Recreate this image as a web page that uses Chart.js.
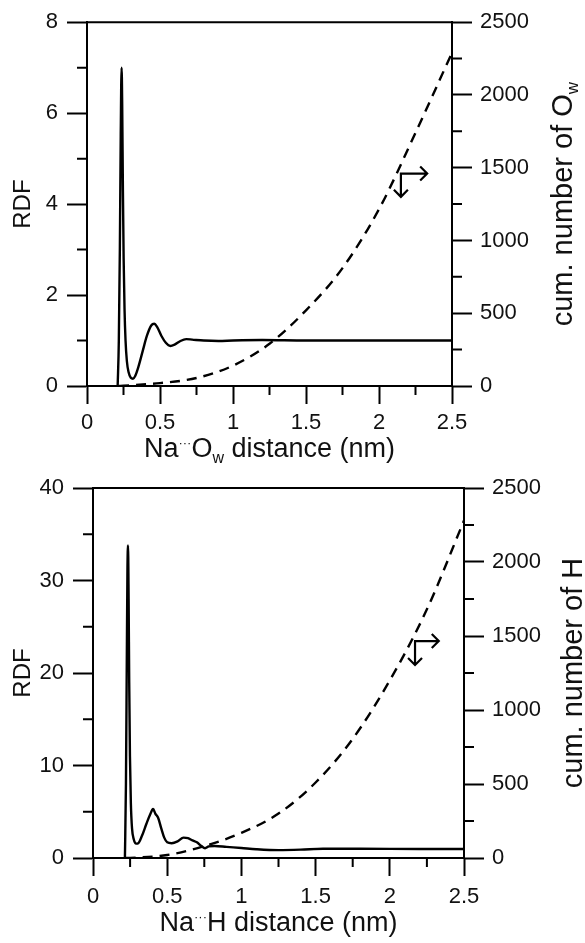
<!DOCTYPE html>
<html>
<head>
<meta charset="utf-8">
<script src="https://cdn.jsdelivr.net/npm/chart.js@4"></script>
<style>
  body { margin: 0; background: #fff; }
  canvas { position: absolute; left: 0; }
  #top { top: 0; }
  #bot { top: 463px; }
</style>
</head>
<body>
<canvas id="top" width="585" height="472"></canvas>
<canvas id="bot" width="585" height="480"></canvas>
<script>
// Na...Ow panel
const owR   = [0.21, 0.218, 0.225, 0.231, 0.237, 0.241, 0.246, 0.251, 0.257, 0.264, 0.273, 0.285, 0.3, 0.315, 0.33, 0.35, 0.38, 0.41, 0.44, 0.46, 0.48, 0.51, 0.54, 0.57, 0.6, 0.64, 0.68, 0.72, 0.8, 0.9, 1.0, 1.2, 1.5, 2.0, 2.5];
const owRdf = [0, 1.0, 3.0, 5.5, 7.0, 6.2, 4.3, 2.8, 1.7, 1.0, 0.55, 0.3, 0.18, 0.16, 0.22, 0.4, 0.75, 1.1, 1.33, 1.37, 1.3, 1.1, 0.95, 0.88, 0.91, 0.99, 1.03, 1.02, 1.0, 0.99, 1.0, 1.01, 1.0, 1.0, 1.0];
const owCumR = [0.22, 0.25, 0.5, 0.75, 1.0, 1.25, 1.5, 1.75, 2.0, 2.25, 2.5];
const owCum  = [0, 2, 20, 55, 140, 290, 520, 810, 1215, 1740, 2290];
const owArrow = [2.15, 1460, 2.33, 1300];

// Na...H panel
const hR   = [0.215, 0.222, 0.228, 0.232, 0.236, 0.24, 0.244, 0.249, 0.255, 0.263, 0.275, 0.29, 0.305, 0.33, 0.36, 0.385, 0.405, 0.42, 0.44, 0.46, 0.48, 0.5, 0.53, 0.57, 0.61, 0.64, 0.67, 0.7, 0.73, 0.755, 0.78, 0.82, 0.9, 1.0, 1.1, 1.25, 1.4, 1.55, 1.8, 2.2, 2.5];
const hRdf = [0, 8, 22, 31, 33.8, 28, 19, 11, 6, 3.2, 2.0, 1.55, 1.6, 2.4, 3.7, 4.7, 5.3, 4.8, 4.3, 3.2, 2.2, 1.7, 1.6, 1.8, 2.2, 2.15, 1.9, 1.7, 1.3, 1.05, 1.25, 1.3, 1.2, 1.08, 0.95, 0.85, 0.9, 1.0, 1.0, 0.97, 0.97];
const hCumR = [0.22, 0.25, 0.5, 0.75, 1.0, 1.25, 1.5, 1.75, 2.0, 2.25, 2.5];
const hCum  = [0, 1, 20, 80, 170, 300, 510, 805, 1200, 1680, 2280];
const hArrow = [2.17, 1466, 2.33, 1304];

// ticks
const xMajor = [0, 0.5, 1, 1.5, 2, 2.5];
const xMinor = [0.25, 0.75, 1.25, 1.75, 2.25];
const owRdfMajor = [0, 2, 4, 6, 8];
const owRdfMinor = [1, 3, 5, 7];
const hRdfMajor = [0, 10, 20, 30, 40];
const hRdfMinor = [5, 15, 25, 35];
const cumMajor = [0, 500, 1000, 1500, 2000, 2500];
const cumMinor = [250, 750, 1250, 1750, 2250];

const FONT = '"Liberation Sans", Arial, sans-serif';
const INK = '#111';

const pts = (xs, ys) => xs.map((x, i) => ({ x: x, y: ys[i] }));

function richText(ctx, parts, x, y, rot) {
  ctx.save();
  ctx.translate(x, y);
  ctx.rotate(rot);
  let w = 0;
  parts.forEach(p => { ctx.font = p.size + 'px ' + FONT; w += ctx.measureText(p.t).width; });
  let cx = -w / 2;
  ctx.fillStyle = INK;
  ctx.textBaseline = 'alphabetic';
  ctx.textAlign = 'left';
  parts.forEach(p => {
    ctx.font = p.size + 'px ' + FONT;
    ctx.fillText(p.t, cx, p.dy || 0);
    cx += ctx.measureText(p.t).width;
  });
  ctx.restore();
}

function arrowHead(ctx, x, y, dx, dy) {
  const s = 7;
  ctx.moveTo(x - dx * s - dy * s, y - dy * s - dx * s);
  ctx.lineTo(x, y);
  ctx.lineTo(x - dx * s + dy * s, y - dy * s + dx * s);
}

const panelDecor = {
  id: 'panelDecor',
  afterDraw(chart, args, o) {
    const ctx = chart.ctx, a = chart.chartArea;
    const sx = chart.scales.x, yl = chart.scales.y, yr = chart.scales.y2;
    ctx.save();
    ctx.strokeStyle = '#000';
    ctx.lineWidth = 2;
    ctx.beginPath();
    ctx.moveTo(a.left, a.top);
    ctx.lineTo(a.right, a.top);
    xMinor.forEach(v => { const p = sx.getPixelForValue(v); ctx.moveTo(p, a.bottom); ctx.lineTo(p, a.bottom + 9); });
    o.rdfMinor.forEach(v => { const p = yl.getPixelForValue(v); ctx.moveTo(a.left - 10, p); ctx.lineTo(a.left, p); });
    cumMinor.forEach(v => { const p = yr.getPixelForValue(v); ctx.moveTo(a.right, p); ctx.lineTo(a.right + 10, p); });
    ctx.stroke();

    // direction arrows
    const cx = sx.getPixelForValue(o.arrow[0]), cy = yr.getPixelForValue(o.arrow[1]);
    const ex = sx.getPixelForValue(o.arrow[2]), ey = yr.getPixelForValue(o.arrow[3]);
    ctx.lineWidth = 2.2;
    ctx.beginPath();
    ctx.moveTo(ex, cy); ctx.lineTo(cx, cy); ctx.lineTo(cx, ey);
    arrowHead(ctx, ex, cy, 1, 0);
    arrowHead(ctx, cx, ey, 0, 1);
    ctx.stroke();
    ctx.restore();

    // axis titles
    const mid = (a.top + a.bottom) / 2;
    richText(ctx, o.xTitle, (a.left + a.right) / 2, a.bottom + o.titleGap, 0);
    richText(ctx, [{ t: 'RDF', size: 24 }], 30, mid, -Math.PI / 2);
    richText(ctx, o.yTitle, o.rightX, mid, -Math.PI / 2);
  }
};

function makeChart(id, box, rdf, cum, rdfMax, rdfMajor, rdfMinor, arrow, xTitle, yTitle, rightX, titleGap) {
  const cv = document.getElementById(id);
  const W = cv.width, H = cv.height;
  const tickFont = { family: FONT, size: 22 };
  return new Chart(cv, {
    type: 'line',
    data: {
      datasets: [
        { data: rdf, yAxisID: 'y', borderColor: '#000', borderWidth: 2.4, pointRadius: 0, cubicInterpolationMode: 'monotone', fill: false },
        { data: cum, yAxisID: 'y2', borderColor: '#000', borderWidth: 2.4, borderDash: [10, 7], pointRadius: 0, cubicInterpolationMode: 'monotone', fill: false }
      ]
    },
    options: {
      responsive: false,
      animation: false,
      devicePixelRatio: 1,
      layout: { padding: { top: box.top, left: 0, right: 0, bottom: 0 } },
      plugins: {
        legend: { display: false },
        tooltip: { enabled: false },
        panelDecor: { rdfMinor: rdfMinor, arrow: arrow, xTitle: xTitle, yTitle: yTitle, rightX: rightX, titleGap: titleGap }
      },
      scales: {
        x: {
          type: 'linear', min: 0, max: 2.5,
          afterBuildTicks: s => { s.ticks = xMajor.map(v => ({ value: v })); },
          afterFit: s => { s.height = H - box.bottom; },
          ticks: { font: tickFont, color: INK, padding: box.xPad, maxRotation: 0, autoSkip: false, callback: v => String(v) },
          grid: { drawOnChartArea: false, tickLength: 18, tickWidth: 2, tickColor: '#000' },
          border: { color: '#000', width: 2 }
        },
        y: {
          type: 'linear', position: 'left', min: 0, max: rdfMax,
          afterBuildTicks: s => { s.ticks = rdfMajor.map(v => ({ value: v })); },
          afterFit: s => { s.width = box.left; },
          ticks: { font: tickFont, color: INK, padding: 9, callback: v => String(v) },
          grid: { drawOnChartArea: false, tickLength: 20, tickWidth: 2, tickColor: '#000' },
          border: { color: '#000', width: 2 }
        },
        y2: {
          type: 'linear', position: 'right', min: 0, max: 2500,
          afterBuildTicks: s => { s.ticks = cumMajor.map(v => ({ value: v })); },
          afterFit: s => { s.width = W - box.right; },
          ticks: { font: tickFont, color: INK, padding: 8, callback: v => String(v) },
          grid: { drawOnChartArea: false, tickLength: 20, tickWidth: 2, tickColor: '#000' },
          border: { color: '#000', width: 2 }
        }
      }
    },
    plugins: [panelDecor]
  });
}

const T = 27, R = 29;
makeChart('top', { left: 87, right: 452, top: 20, bottom: 386, xPad: 6 },
  pts(owR, owRdf), pts(owCumR, owCum), 8, owRdfMajor, owRdfMinor, owArrow,
  [{ t: 'Na', size: T }, { t: '\u00b7\u00b7\u00b7', size: 13, dy: -10 }, { t: 'O', size: T }, { t: 'w', size: 16, dy: 6 }, { t: ' distance (nm)', size: T }],
  [{ t: 'cum. number of O', size: R }, { t: 'w', size: 17, dy: 6 }], 572, 71);

makeChart('bot', { left: 93, right: 464, top: 25, bottom: 395, xPad: 8 },
  pts(hR, hRdf), pts(hCumR, hCum), 40, hRdfMajor, hRdfMinor, hArrow,
  [{ t: 'Na', size: T }, { t: '\u00b7\u00b7\u00b7', size: 13, dy: -10 }, { t: 'H', size: T }, { t: ' distance (nm)', size: T }],
  [{ t: 'cum. number of H', size: R }], 582, 73);
</script>
</body>
</html>
